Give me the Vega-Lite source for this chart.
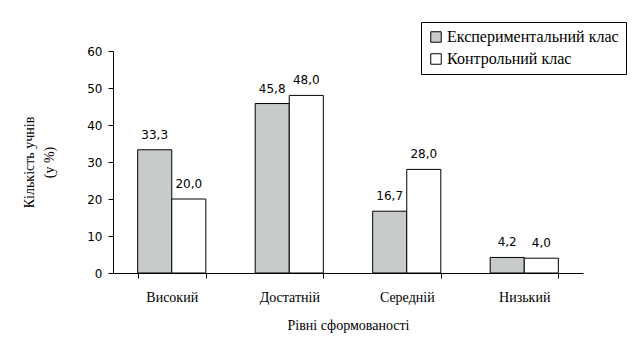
{
  "$schema": "https://vega.github.io/schema/vega-lite/v6.json",
  "width": 470,
  "height": 222,
  "autosize": {"type": "none"},
  "padding": {"left": 113, "top": 51, "right": 55, "bottom": 81},
  "background": "white",
  "config": {
    "view": {"stroke": null},
    "locale": {"number": {"decimal": ",", "thousands": " ", "grouping": [3], "currency": ["", ""]}}
  },
  "data": {
    "values": [
      {"level": "Високий", "group": "Експериментальний клас", "value": 33.3},
      {"level": "Високий", "group": "Контрольний клас", "value": 20.0},
      {"level": "Достатній", "group": "Експериментальний клас", "value": 45.8},
      {"level": "Достатній", "group": "Контрольний клас", "value": 48.0},
      {"level": "Середній", "group": "Експериментальний клас", "value": 16.7},
      {"level": "Середній", "group": "Контрольний клас", "value": 28.0},
      {"level": "Низький", "group": "Експериментальний клас", "value": 4.2},
      {"level": "Низький", "group": "Контрольний клас", "value": 4.0}
    ]
  },
  "encoding": {
    "x": {
      "field": "level", "type": "nominal", "sort": ["Високий", "Достатній", "Середній", "Низький"],
      "scale": {"paddingInner": 0.42, "paddingOuter": 0.21},
      "axis": {
        "title": "Рівні сформованості", "labelAngle": 0, "domainColor": "black", "tickColor": "black",
        "tickBand": "extent", "tickSize": 5, "labelFont": "Liberation Serif", "labelFontSize": 14,
        "labelColor": "black", "labelPadding": 12, "titleFont": "Liberation Serif", "titleFontSize": 14,
        "titleFontWeight": "normal", "titleColor": "black", "titlePadding": 14, "grid": false
      }
    },
    "xOffset": {"field": "group", "type": "nominal", "sort": ["Експериментальний клас", "Контрольний клас"], "scale": {"paddingInner": 0}},
    "y": {
      "field": "value", "type": "quantitative", "scale": {"domain": [0, 60]},
      "axis": {
        "title": ["Кількість учнів", "(у %)"], "values": [0, 10, 20, 30, 40, 50, 60], "tickCount": 7, "grid": false,
        "labelOverlap": false, "labelFlush": false,
        "domainColor": "black", "tickColor": "black", "tickSize": 5, "labelFont": "DejaVu Sans",
        "labelFontSize": 12, "labelColor": "black", "labelPadding": 6, "titleFont": "Liberation Serif",
        "titleFontSize": 14, "titleFontWeight": "normal", "titleColor": "black", "titlePadding": 30, "titleLineHeight": 20
      }
    }
  },
  "layer": [
    {
      "mark": {"type": "bar", "stroke": "black", "strokeWidth": 1},
      "encoding": {
        "fill": {
          "field": "group", "type": "nominal", "sort": ["Експериментальний клас", "Контрольний клас"],
          "scale": {"range": ["#C8CCC8", "#FFFFFF"]},
          "legend": {
            "title": null, "orient": "none", "legendX": 308, "legendY": -29, "direction": "vertical",
            "symbolType": "square", "symbolSize": 110, "symbolStrokeColor": "black", "symbolStrokeWidth": 1,
            "labelFont": "Liberation Serif", "labelFontSize": 16, "labelColor": "black", "labelLimit": 300,
            "strokeColor": "black", "fillColor": "white", "padding": 7, "rowPadding": 6, "symbolOffset": 0, "labelOffset": 3
          }
        }
      }
    },
    {
      "mark": {"type": "text", "baseline": "bottom", "dy": -8, "font": "DejaVu Sans", "fontSize": 12, "color": "black"},
      "encoding": {
        "text": {"field": "value", "type": "quantitative", "format": ".1f"}
      }
    }
  ]
}
